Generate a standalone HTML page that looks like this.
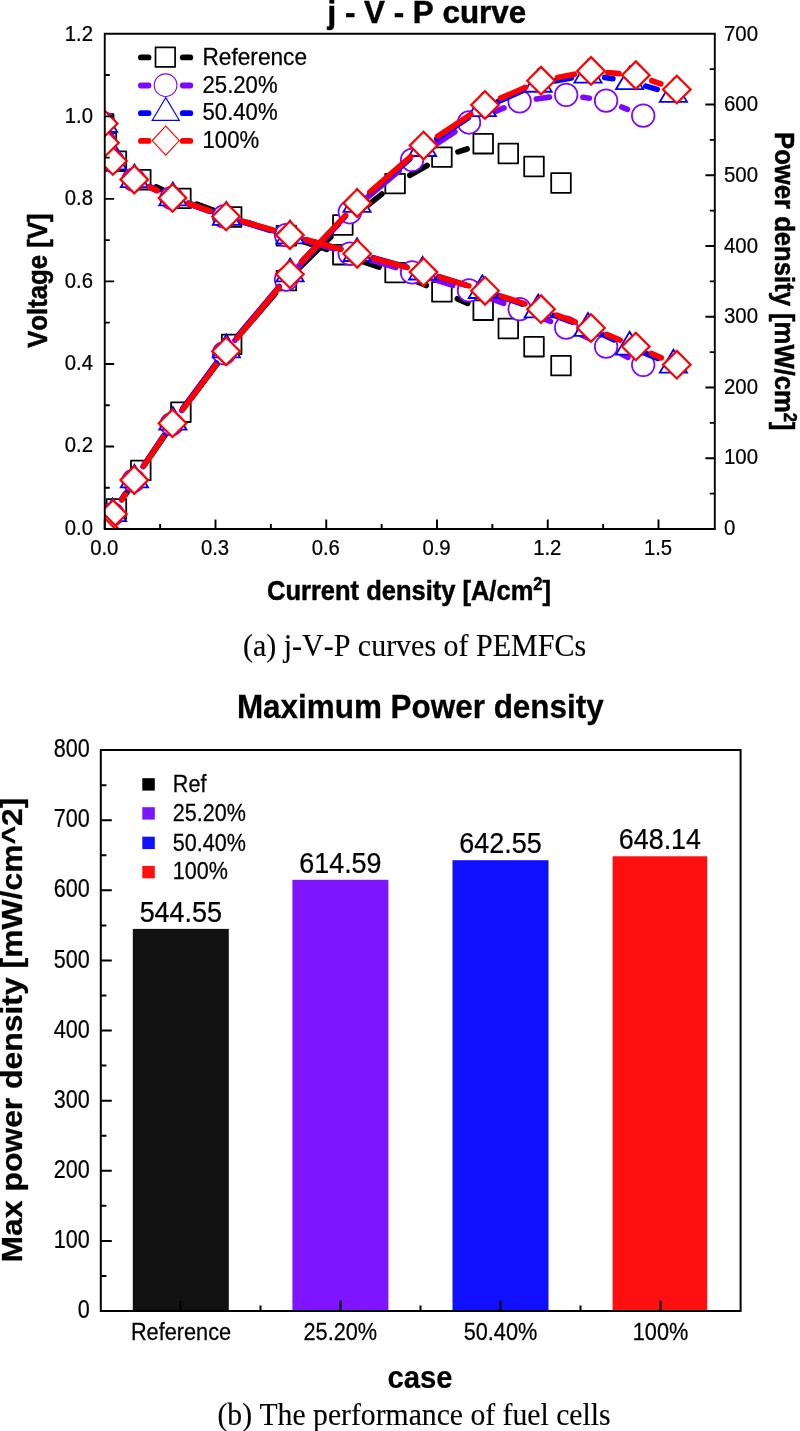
<!DOCTYPE html>
<html lang="en"><head><meta charset="utf-8"><title>j-V-P curves and maximum power density</title>
<style>
html,body{margin:0;padding:0;background:#fff;}
body{width:800px;height:1431px;overflow:hidden;}
svg{display:block;}
text{white-space:pre;fill:#000;stroke:#000;font-kerning:none;}
.s{font-family:"Liberation Sans",sans-serif;stroke-width:0.25px;}
.b{font-weight:bold;stroke-width:0.5px;}
.r{font-family:"Liberation Serif",serif;stroke-width:0.15px;}
.m{text-anchor:middle;}
.e{text-anchor:end;}

</style></head>
<body>
<svg width="800" height="1431" viewBox="0 0 800 1431">
<rect x="0" y="0" width="800" height="1431" fill="#ffffff"/>
<clipPath id="c1"><rect x="104.75" y="33.8" width="610.05" height="495.2"/></clipPath>
<g clip-path="url(#c1)">
<line x1="156.16" y1="186.86" x2="165.54" y2="191.24" stroke="#000000" stroke-width="5.7" stroke-linecap="round"/>
<line x1="196.81" y1="204.23" x2="215.74" y2="211.17" stroke="#000000" stroke-width="5.7" stroke-linecap="round"/>
<line x1="247.68" y1="222.50" x2="270.37" y2="230.30" stroke="#000000" stroke-width="5.7" stroke-linecap="round"/>
<line x1="302.47" y1="241.18" x2="326.78" y2="249.32" stroke="#000000" stroke-width="5.7" stroke-linecap="round"/>
<line x1="358.89" y1="260.19" x2="379.06" y2="267.11" stroke="#000000" stroke-width="5.7" stroke-linecap="round"/>
<line x1="410.77" y1="279.06" x2="426.23" y2="285.44" stroke="#000000" stroke-width="5.7" stroke-linecap="round"/>
<line x1="457.40" y1="298.77" x2="467.70" y2="303.33" stroke="#000000" stroke-width="5.7" stroke-linecap="round"/>
<rect x="551.20" y="355.80" width="19.60" height="19.60" fill="#fff" stroke="#000000" stroke-width="1.8" stroke-linejoin="round"/>
<rect x="524.20" y="336.90" width="19.60" height="19.60" fill="#fff" stroke="#000000" stroke-width="1.8" stroke-linejoin="round"/>
<rect x="498.50" y="318.70" width="19.60" height="19.60" fill="#fff" stroke="#000000" stroke-width="1.8" stroke-linejoin="round"/>
<rect x="473.40" y="300.40" width="19.60" height="19.60" fill="#fff" stroke="#000000" stroke-width="1.8" stroke-linejoin="round"/>
<rect x="432.10" y="282.10" width="19.60" height="19.60" fill="#fff" stroke="#000000" stroke-width="1.8" stroke-linejoin="round"/>
<rect x="385.30" y="262.80" width="19.60" height="19.60" fill="#fff" stroke="#000000" stroke-width="1.8" stroke-linejoin="round"/>
<rect x="333.05" y="244.90" width="19.60" height="19.60" fill="#fff" stroke="#000000" stroke-width="1.8" stroke-linejoin="round"/>
<rect x="276.60" y="226.00" width="19.60" height="19.60" fill="#fff" stroke="#000000" stroke-width="1.8" stroke-linejoin="round"/>
<rect x="221.85" y="207.20" width="19.60" height="19.60" fill="#fff" stroke="#000000" stroke-width="1.8" stroke-linejoin="round"/>
<rect x="171.10" y="188.60" width="19.60" height="19.60" fill="#fff" stroke="#000000" stroke-width="1.8" stroke-linejoin="round"/>
<rect x="131.00" y="169.90" width="19.60" height="19.60" fill="#fff" stroke="#000000" stroke-width="1.8" stroke-linejoin="round"/>
<rect x="106.60" y="151.40" width="19.60" height="19.60" fill="#fff" stroke="#000000" stroke-width="1.8" stroke-linejoin="round"/>
<rect x="96.60" y="133.10" width="19.60" height="19.60" fill="#fff" stroke="#000000" stroke-width="1.8" stroke-linejoin="round"/>
<rect x="93.85" y="114.05" width="19.60" height="19.60" fill="#fff" stroke="#000000" stroke-width="1.8" stroke-linejoin="round"/>
<line x1="125.47" y1="494.58" x2="131.73" y2="484.67" stroke="#000000" stroke-width="5.7" stroke-linecap="round"/>
<line x1="150.42" y1="456.40" x2="171.28" y2="426.15" stroke="#000000" stroke-width="5.7" stroke-linecap="round"/>
<line x1="191.05" y1="398.63" x2="221.50" y2="357.92" stroke="#000000" stroke-width="5.7" stroke-linecap="round"/>
<line x1="242.69" y1="331.49" x2="275.36" y2="293.46" stroke="#000000" stroke-width="5.7" stroke-linecap="round"/>
<line x1="298.48" y1="268.71" x2="330.77" y2="236.89" stroke="#000000" stroke-width="5.7" stroke-linecap="round"/>
<line x1="356.14" y1="214.47" x2="381.81" y2="194.13" stroke="#000000" stroke-width="5.7" stroke-linecap="round"/>
<line x1="409.86" y1="175.26" x2="427.14" y2="165.49" stroke="#000000" stroke-width="5.7" stroke-linecap="round"/>
<line x1="458.02" y1="151.90" x2="467.08" y2="148.95" stroke="#000000" stroke-width="5.7" stroke-linecap="round"/>
<rect x="551.20" y="173.20" width="19.60" height="19.60" fill="#fff" stroke="#000000" stroke-width="1.8" stroke-linejoin="round"/>
<rect x="524.20" y="156.70" width="19.60" height="19.60" fill="#fff" stroke="#000000" stroke-width="1.8" stroke-linejoin="round"/>
<rect x="498.50" y="143.70" width="19.60" height="19.60" fill="#fff" stroke="#000000" stroke-width="1.8" stroke-linejoin="round"/>
<rect x="473.40" y="133.90" width="19.60" height="19.60" fill="#fff" stroke="#000000" stroke-width="1.8" stroke-linejoin="round"/>
<rect x="432.10" y="147.35" width="19.60" height="19.60" fill="#fff" stroke="#000000" stroke-width="1.8" stroke-linejoin="round"/>
<rect x="385.30" y="173.80" width="19.60" height="19.60" fill="#fff" stroke="#000000" stroke-width="1.8" stroke-linejoin="round"/>
<rect x="333.05" y="215.20" width="19.60" height="19.60" fill="#fff" stroke="#000000" stroke-width="1.8" stroke-linejoin="round"/>
<rect x="276.60" y="270.80" width="19.60" height="19.60" fill="#fff" stroke="#000000" stroke-width="1.8" stroke-linejoin="round"/>
<rect x="221.85" y="334.55" width="19.60" height="19.60" fill="#fff" stroke="#000000" stroke-width="1.8" stroke-linejoin="round"/>
<rect x="171.10" y="402.40" width="19.60" height="19.60" fill="#fff" stroke="#000000" stroke-width="1.8" stroke-linejoin="round"/>
<rect x="131.00" y="460.55" width="19.60" height="19.60" fill="#fff" stroke="#000000" stroke-width="1.8" stroke-linejoin="round"/>
<rect x="106.60" y="499.10" width="19.60" height="19.60" fill="#fff" stroke="#000000" stroke-width="1.8" stroke-linejoin="round"/>
<rect x="96.60" y="518.20" width="19.60" height="19.60" fill="#fff" stroke="#000000" stroke-width="1.8" stroke-linejoin="round"/>
<rect x="93.85" y="520.00" width="19.60" height="19.60" fill="#fff" stroke="#000000" stroke-width="1.8" stroke-linejoin="round"/>
<line x1="148.87" y1="186.95" x2="156.33" y2="190.55" stroke="#7d08ff" stroke-width="5.7" stroke-linecap="round"/>
<line x1="187.57" y1="203.57" x2="208.03" y2="210.83" stroke="#7d08ff" stroke-width="5.7" stroke-linecap="round"/>
<line x1="240.24" y1="221.35" x2="269.86" y2="230.20" stroke="#7d08ff" stroke-width="5.7" stroke-linecap="round"/>
<line x1="302.37" y1="239.79" x2="333.53" y2="248.86" stroke="#7d08ff" stroke-width="5.7" stroke-linecap="round"/>
<line x1="366.03" y1="258.50" x2="395.87" y2="267.50" stroke="#7d08ff" stroke-width="5.7" stroke-linecap="round"/>
<line x1="428.26" y1="277.51" x2="452.84" y2="285.29" stroke="#7d08ff" stroke-width="5.7" stroke-linecap="round"/>
<line x1="484.89" y1="296.29" x2="503.71" y2="303.26" stroke="#7d08ff" stroke-width="5.7" stroke-linecap="round"/>
<line x1="535.35" y1="315.40" x2="550.45" y2="321.40" stroke="#7d08ff" stroke-width="5.7" stroke-linecap="round"/>
<line x1="581.52" y1="334.91" x2="590.78" y2="339.29" stroke="#7d08ff" stroke-width="5.7" stroke-linecap="round"/>
<line x1="621.30" y1="354.05" x2="628.00" y2="357.35" stroke="#7d08ff" stroke-width="5.7" stroke-linecap="round"/>
<circle cx="643.20" cy="364.85" r="11.3" fill="#fff" stroke="#7d08ff" stroke-width="1.75"/>
<circle cx="606.10" cy="346.55" r="11.3" fill="#fff" stroke="#7d08ff" stroke-width="1.75"/>
<circle cx="566.20" cy="327.65" r="11.3" fill="#fff" stroke="#7d08ff" stroke-width="1.75"/>
<circle cx="519.60" cy="309.15" r="11.3" fill="#fff" stroke="#7d08ff" stroke-width="1.75"/>
<circle cx="469.00" cy="290.40" r="11.3" fill="#fff" stroke="#7d08ff" stroke-width="1.75"/>
<circle cx="412.10" cy="272.40" r="11.3" fill="#fff" stroke="#7d08ff" stroke-width="1.75"/>
<circle cx="349.80" cy="253.60" r="11.3" fill="#fff" stroke="#7d08ff" stroke-width="1.75"/>
<circle cx="286.10" cy="235.05" r="11.3" fill="#fff" stroke="#7d08ff" stroke-width="1.75"/>
<circle cx="224.00" cy="216.50" r="11.3" fill="#fff" stroke="#7d08ff" stroke-width="1.75"/>
<circle cx="171.60" cy="197.90" r="11.3" fill="#fff" stroke="#7d08ff" stroke-width="1.75"/>
<circle cx="133.60" cy="179.60" r="11.3" fill="#fff" stroke="#7d08ff" stroke-width="1.75"/>
<circle cx="112.60" cy="161.00" r="11.3" fill="#fff" stroke="#7d08ff" stroke-width="1.75"/>
<circle cx="104.90" cy="142.75" r="11.3" fill="#fff" stroke="#7d08ff" stroke-width="1.75"/>
<circle cx="103.70" cy="123.50" r="11.3" fill="#fff" stroke="#7d08ff" stroke-width="1.75"/>
<line x1="121.58" y1="499.83" x2="124.62" y2="494.97" stroke="#7d08ff" stroke-width="5.7" stroke-linecap="round"/>
<line x1="143.07" y1="466.54" x2="162.13" y2="438.26" stroke="#7d08ff" stroke-width="5.7" stroke-linecap="round"/>
<line x1="181.67" y1="410.56" x2="213.93" y2="366.84" stroke="#7d08ff" stroke-width="5.7" stroke-linecap="round"/>
<line x1="234.92" y1="340.24" x2="275.18" y2="292.46" stroke="#7d08ff" stroke-width="5.7" stroke-linecap="round"/>
<line x1="297.75" y1="267.19" x2="338.15" y2="224.51" stroke="#7d08ff" stroke-width="5.7" stroke-linecap="round"/>
<line x1="362.77" y1="201.29" x2="399.13" y2="170.71" stroke="#7d08ff" stroke-width="5.7" stroke-linecap="round"/>
<line x1="426.28" y1="150.51" x2="454.82" y2="131.79" stroke="#7d08ff" stroke-width="5.7" stroke-linecap="round"/>
<line x1="484.64" y1="115.98" x2="503.96" y2="107.92" stroke="#7d08ff" stroke-width="5.7" stroke-linecap="round"/>
<line x1="536.38" y1="99.02" x2="549.42" y2="97.18" stroke="#7d08ff" stroke-width="5.7" stroke-linecap="round"/>
<line x1="582.97" y1="97.28" x2="589.33" y2="98.22" stroke="#7d08ff" stroke-width="5.7" stroke-linecap="round"/>
<line x1="621.82" y1="107.04" x2="627.48" y2="109.31" stroke="#7d08ff" stroke-width="5.7" stroke-linecap="round"/>
<circle cx="643.20" cy="115.65" r="11.3" fill="#fff" stroke="#7d08ff" stroke-width="1.75"/>
<circle cx="606.10" cy="100.70" r="11.3" fill="#fff" stroke="#7d08ff" stroke-width="1.75"/>
<circle cx="566.20" cy="94.80" r="11.3" fill="#fff" stroke="#7d08ff" stroke-width="1.75"/>
<circle cx="519.60" cy="101.40" r="11.3" fill="#fff" stroke="#7d08ff" stroke-width="1.75"/>
<circle cx="469.00" cy="122.50" r="11.3" fill="#fff" stroke="#7d08ff" stroke-width="1.75"/>
<circle cx="412.10" cy="159.80" r="11.3" fill="#fff" stroke="#7d08ff" stroke-width="1.75"/>
<circle cx="349.80" cy="212.20" r="11.3" fill="#fff" stroke="#7d08ff" stroke-width="1.75"/>
<circle cx="286.10" cy="279.50" r="11.3" fill="#fff" stroke="#7d08ff" stroke-width="1.75"/>
<circle cx="224.00" cy="353.20" r="11.3" fill="#fff" stroke="#7d08ff" stroke-width="1.75"/>
<circle cx="171.60" cy="424.20" r="11.3" fill="#fff" stroke="#7d08ff" stroke-width="1.75"/>
<circle cx="133.60" cy="480.60" r="11.3" fill="#fff" stroke="#7d08ff" stroke-width="1.75"/>
<circle cx="112.60" cy="514.20" r="11.3" fill="#fff" stroke="#7d08ff" stroke-width="1.75"/>
<circle cx="104.90" cy="528.90" r="11.3" fill="#fff" stroke="#7d08ff" stroke-width="1.75"/>
<circle cx="103.70" cy="531.00" r="11.3" fill="#fff" stroke="#7d08ff" stroke-width="1.75"/>
<line x1="149.74" y1="186.61" x2="157.56" y2="190.29" stroke="#0000ff" stroke-width="5.7" stroke-linecap="round"/>
<line x1="188.83" y1="203.30" x2="210.47" y2="211.20" stroke="#0000ff" stroke-width="5.7" stroke-linecap="round"/>
<line x1="242.67" y1="221.75" x2="273.83" y2="230.85" stroke="#0000ff" stroke-width="5.7" stroke-linecap="round"/>
<line x1="306.49" y1="239.91" x2="340.61" y2="248.89" stroke="#0000ff" stroke-width="5.7" stroke-linecap="round"/>
<line x1="373.31" y1="257.80" x2="406.29" y2="267.10" stroke="#0000ff" stroke-width="5.7" stroke-linecap="round"/>
<line x1="438.79" y1="276.72" x2="466.11" y2="285.18" stroke="#0000ff" stroke-width="5.7" stroke-linecap="round"/>
<line x1="498.32" y1="295.73" x2="522.18" y2="303.97" stroke="#0000ff" stroke-width="5.7" stroke-linecap="round"/>
<line x1="554.09" y1="315.40" x2="572.11" y2="322.10" stroke="#0000ff" stroke-width="5.7" stroke-linecap="round"/>
<line x1="603.45" y1="334.98" x2="614.15" y2="339.82" stroke="#0000ff" stroke-width="5.7" stroke-linecap="round"/>
<line x1="645.28" y1="353.24" x2="657.72" y2="358.36" stroke="#0000ff" stroke-width="5.7" stroke-linecap="round"/>
<polygon points="673.40,349.80 687.00,372.60 659.80,372.60" fill="#fff" stroke="#0000ff" stroke-width="1.8" stroke-linejoin="miter"/>
<polygon points="629.60,331.80 643.20,354.60 616.00,354.60" fill="#fff" stroke="#0000ff" stroke-width="1.8" stroke-linejoin="miter"/>
<polygon points="588.00,313.00 601.60,335.80 574.40,335.80" fill="#fff" stroke="#0000ff" stroke-width="1.8" stroke-linejoin="miter"/>
<polygon points="538.20,294.50 551.80,317.30 524.60,317.30" fill="#fff" stroke="#0000ff" stroke-width="1.8" stroke-linejoin="miter"/>
<polygon points="482.30,275.20 495.90,298.00 468.70,298.00" fill="#fff" stroke="#0000ff" stroke-width="1.8" stroke-linejoin="miter"/>
<polygon points="422.60,256.70 436.20,279.50 409.00,279.50" fill="#fff" stroke="#0000ff" stroke-width="1.8" stroke-linejoin="miter"/>
<polygon points="357.00,238.20 370.60,261.00 343.40,261.00" fill="#fff" stroke="#0000ff" stroke-width="1.8" stroke-linejoin="miter"/>
<polygon points="290.10,220.60 303.70,243.40 276.50,243.40" fill="#fff" stroke="#0000ff" stroke-width="1.8" stroke-linejoin="miter"/>
<polygon points="226.40,202.00 240.00,224.80 212.80,224.80" fill="#fff" stroke="#0000ff" stroke-width="1.8" stroke-linejoin="miter"/>
<polygon points="172.90,182.50 186.50,205.30 159.30,205.30" fill="#fff" stroke="#0000ff" stroke-width="1.8" stroke-linejoin="miter"/>
<polygon points="134.40,164.40 148.00,187.20 120.80,187.20" fill="#fff" stroke="#0000ff" stroke-width="1.8" stroke-linejoin="miter"/>
<polygon points="112.60,146.50 126.20,169.30 99.00,169.30" fill="#fff" stroke="#0000ff" stroke-width="1.8" stroke-linejoin="miter"/>
<polygon points="104.90,127.90 118.50,150.70 91.30,150.70" fill="#fff" stroke="#0000ff" stroke-width="1.8" stroke-linejoin="miter"/>
<polygon points="103.60,109.00 117.20,131.80 90.00,131.80" fill="#fff" stroke="#0000ff" stroke-width="1.8" stroke-linejoin="miter"/>
<line x1="121.80" y1="499.16" x2="125.20" y2="493.89" stroke="#0000ff" stroke-width="5.7" stroke-linecap="round"/>
<line x1="143.80" y1="465.55" x2="163.50" y2="436.00" stroke="#0000ff" stroke-width="5.7" stroke-linecap="round"/>
<line x1="182.97" y1="408.27" x2="216.33" y2="363.13" stroke="#0000ff" stroke-width="5.7" stroke-linecap="round"/>
<line x1="237.29" y1="336.51" x2="279.21" y2="286.49" stroke="#0000ff" stroke-width="5.7" stroke-linecap="round"/>
<line x1="301.85" y1="261.29" x2="345.25" y2="216.21" stroke="#0000ff" stroke-width="5.7" stroke-linecap="round"/>
<line x1="369.91" y1="193.02" x2="409.69" y2="159.18" stroke="#0000ff" stroke-width="5.7" stroke-linecap="round"/>
<line x1="436.70" y1="138.80" x2="468.20" y2="117.80" stroke="#0000ff" stroke-width="5.7" stroke-linecap="round"/>
<line x1="497.83" y1="101.61" x2="522.67" y2="90.74" stroke="#0000ff" stroke-width="5.7" stroke-linecap="round"/>
<line x1="554.87" y1="80.89" x2="571.33" y2="77.86" stroke="#0000ff" stroke-width="5.7" stroke-linecap="round"/>
<line x1="604.74" y1="77.46" x2="612.86" y2="78.74" stroke="#0000ff" stroke-width="5.7" stroke-linecap="round"/>
<line x1="645.88" y1="86.12" x2="657.12" y2="89.38" stroke="#0000ff" stroke-width="5.7" stroke-linecap="round"/>
<polygon points="673.40,79.10 687.00,101.90 659.80,101.90" fill="#fff" stroke="#0000ff" stroke-width="1.8" stroke-linejoin="miter"/>
<polygon points="629.60,66.40 643.20,89.20 616.00,89.20" fill="#fff" stroke="#0000ff" stroke-width="1.8" stroke-linejoin="miter"/>
<polygon points="588.00,59.80 601.60,82.60 574.40,82.60" fill="#fff" stroke="#0000ff" stroke-width="1.8" stroke-linejoin="miter"/>
<polygon points="538.20,68.95 551.80,91.75 524.60,91.75" fill="#fff" stroke="#0000ff" stroke-width="1.8" stroke-linejoin="miter"/>
<polygon points="482.30,93.40 495.90,116.20 468.70,116.20" fill="#fff" stroke="#0000ff" stroke-width="1.8" stroke-linejoin="miter"/>
<polygon points="422.60,133.20 436.20,156.00 409.00,156.00" fill="#fff" stroke="#0000ff" stroke-width="1.8" stroke-linejoin="miter"/>
<polygon points="357.00,189.00 370.60,211.80 343.40,211.80" fill="#fff" stroke="#0000ff" stroke-width="1.8" stroke-linejoin="miter"/>
<polygon points="290.10,258.50 303.70,281.30 276.50,281.30" fill="#fff" stroke="#0000ff" stroke-width="1.8" stroke-linejoin="miter"/>
<polygon points="226.40,334.50 240.00,357.30 212.80,357.30" fill="#fff" stroke="#0000ff" stroke-width="1.8" stroke-linejoin="miter"/>
<polygon points="172.90,406.90 186.50,429.70 159.30,429.70" fill="#fff" stroke="#0000ff" stroke-width="1.8" stroke-linejoin="miter"/>
<polygon points="134.40,464.65 148.00,487.45 120.80,487.45" fill="#fff" stroke="#0000ff" stroke-width="1.8" stroke-linejoin="miter"/>
<polygon points="112.60,498.40 126.20,521.20 99.00,521.20" fill="#fff" stroke="#0000ff" stroke-width="1.8" stroke-linejoin="miter"/>
<polygon points="104.90,513.90 118.50,536.70 91.30,536.70" fill="#fff" stroke="#0000ff" stroke-width="1.8" stroke-linejoin="miter"/>
<polygon points="103.60,516.00 117.20,538.80 90.00,538.80" fill="#fff" stroke="#0000ff" stroke-width="1.8" stroke-linejoin="miter"/>
<line x1="149.54" y1="186.92" x2="157.21" y2="190.58" stroke="#ff0000" stroke-width="5.7" stroke-linecap="round"/>
<line x1="188.51" y1="203.46" x2="210.09" y2="210.94" stroke="#ff0000" stroke-width="5.7" stroke-linecap="round"/>
<line x1="242.37" y1="221.24" x2="273.63" y2="230.36" stroke="#ff0000" stroke-width="5.7" stroke-linecap="round"/>
<line x1="306.23" y1="239.64" x2="340.87" y2="249.26" stroke="#ff0000" stroke-width="5.7" stroke-linecap="round"/>
<line x1="373.54" y1="258.31" x2="407.16" y2="267.59" stroke="#ff0000" stroke-width="5.7" stroke-linecap="round"/>
<line x1="439.72" y1="277.03" x2="468.78" y2="285.87" stroke="#ff0000" stroke-width="5.7" stroke-linecap="round"/>
<line x1="501.10" y1="296.09" x2="524.90" y2="303.91" stroke="#ff0000" stroke-width="5.7" stroke-linecap="round"/>
<line x1="556.87" y1="315.17" x2="575.13" y2="322.03" stroke="#ff0000" stroke-width="5.7" stroke-linecap="round"/>
<line x1="606.67" y1="334.47" x2="620.13" y2="340.03" stroke="#ff0000" stroke-width="5.7" stroke-linecap="round"/>
<line x1="651.29" y1="353.38" x2="661.31" y2="357.82" stroke="#ff0000" stroke-width="5.7" stroke-linecap="round"/>
<polygon points="676.80,350.90 690.60,364.70 676.80,378.50 663.00,364.70" fill="#fff" stroke="#ff0000" stroke-width="2.2" stroke-linejoin="miter"/>
<polygon points="635.80,332.70 649.60,346.50 635.80,360.30 622.00,346.50" fill="#fff" stroke="#ff0000" stroke-width="2.2" stroke-linejoin="miter"/>
<polygon points="591.00,314.20 604.80,328.00 591.00,341.80 577.20,328.00" fill="#fff" stroke="#ff0000" stroke-width="2.2" stroke-linejoin="miter"/>
<polygon points="541.00,295.40 554.80,309.20 541.00,323.00 527.20,309.20" fill="#fff" stroke="#ff0000" stroke-width="2.2" stroke-linejoin="miter"/>
<polygon points="485.00,277.00 498.80,290.80 485.00,304.60 471.20,290.80" fill="#fff" stroke="#ff0000" stroke-width="2.2" stroke-linejoin="miter"/>
<polygon points="423.50,258.30 437.30,272.10 423.50,285.90 409.70,272.10" fill="#fff" stroke="#ff0000" stroke-width="2.2" stroke-linejoin="miter"/>
<polygon points="357.20,240.00 371.00,253.80 357.20,267.60 343.40,253.80" fill="#fff" stroke="#ff0000" stroke-width="2.2" stroke-linejoin="miter"/>
<polygon points="289.90,221.30 303.70,235.10 289.90,248.90 276.10,235.10" fill="#fff" stroke="#ff0000" stroke-width="2.2" stroke-linejoin="miter"/>
<polygon points="226.10,202.70 239.90,216.50 226.10,230.30 212.30,216.50" fill="#fff" stroke="#ff0000" stroke-width="2.2" stroke-linejoin="miter"/>
<polygon points="172.50,184.10 186.30,197.90 172.50,211.70 158.70,197.90" fill="#fff" stroke="#ff0000" stroke-width="2.2" stroke-linejoin="miter"/>
<polygon points="134.25,165.80 148.05,179.60 134.25,193.40 120.45,179.60" fill="#fff" stroke="#ff0000" stroke-width="2.2" stroke-linejoin="miter"/>
<polygon points="112.90,147.20 126.70,161.00 112.90,174.80 99.10,161.00" fill="#fff" stroke="#ff0000" stroke-width="2.2" stroke-linejoin="miter"/>
<polygon points="104.95,128.95 118.75,142.75 104.95,156.55 91.15,142.75" fill="#fff" stroke="#ff0000" stroke-width="2.2" stroke-linejoin="miter"/>
<polygon points="103.70,109.70 117.50,123.50 103.70,137.30 89.90,123.50" fill="#fff" stroke="#ff0000" stroke-width="2.2" stroke-linejoin="miter"/>
<line x1="121.94" y1="499.61" x2="125.21" y2="494.44" stroke="#ff0000" stroke-width="5.7" stroke-linecap="round"/>
<line x1="143.71" y1="466.03" x2="163.04" y2="437.27" stroke="#ff0000" stroke-width="5.7" stroke-linecap="round"/>
<line x1="182.63" y1="409.61" x2="215.97" y2="364.89" stroke="#ff0000" stroke-width="5.7" stroke-linecap="round"/>
<line x1="236.91" y1="338.24" x2="279.09" y2="287.31" stroke="#ff0000" stroke-width="5.7" stroke-linecap="round"/>
<line x1="301.55" y1="261.94" x2="345.55" y2="215.41" stroke="#ff0000" stroke-width="5.7" stroke-linecap="round"/>
<line x1="370.01" y1="191.99" x2="410.69" y2="156.71" stroke="#ff0000" stroke-width="5.7" stroke-linecap="round"/>
<line x1="437.64" y1="136.26" x2="470.86" y2="114.31" stroke="#ff0000" stroke-width="5.7" stroke-linecap="round"/>
<line x1="500.55" y1="98.23" x2="525.45" y2="87.44" stroke="#ff0000" stroke-width="5.7" stroke-linecap="round"/>
<line x1="557.64" y1="77.46" x2="574.36" y2="74.19" stroke="#ff0000" stroke-width="5.7" stroke-linecap="round"/>
<line x1="607.88" y1="72.53" x2="618.92" y2="73.57" stroke="#ff0000" stroke-width="5.7" stroke-linecap="round"/>
<line x1="651.80" y1="80.75" x2="660.80" y2="83.90" stroke="#ff0000" stroke-width="5.7" stroke-linecap="round"/>
<polygon points="676.80,75.70 690.60,89.50 676.80,103.30 663.00,89.50" fill="#fff" stroke="#ff0000" stroke-width="2.2" stroke-linejoin="miter"/>
<polygon points="635.80,61.35 649.60,75.15 635.80,88.95 622.00,75.15" fill="#fff" stroke="#ff0000" stroke-width="2.2" stroke-linejoin="miter"/>
<polygon points="591.00,57.15 604.80,70.95 591.00,84.75 577.20,70.95" fill="#fff" stroke="#ff0000" stroke-width="2.2" stroke-linejoin="miter"/>
<polygon points="541.00,66.90 554.80,80.70 541.00,94.50 527.20,80.70" fill="#fff" stroke="#ff0000" stroke-width="2.2" stroke-linejoin="miter"/>
<polygon points="485.00,91.17 498.80,104.97 485.00,118.77 471.20,104.97" fill="#fff" stroke="#ff0000" stroke-width="2.2" stroke-linejoin="miter"/>
<polygon points="423.50,131.80 437.30,145.60 423.50,159.40 409.70,145.60" fill="#fff" stroke="#ff0000" stroke-width="2.2" stroke-linejoin="miter"/>
<polygon points="357.20,189.30 371.00,203.10 357.20,216.90 343.40,203.10" fill="#fff" stroke="#ff0000" stroke-width="2.2" stroke-linejoin="miter"/>
<polygon points="289.90,260.45 303.70,274.25 289.90,288.05 276.10,274.25" fill="#fff" stroke="#ff0000" stroke-width="2.2" stroke-linejoin="miter"/>
<polygon points="226.10,337.50 239.90,351.30 226.10,365.10 212.30,351.30" fill="#fff" stroke="#ff0000" stroke-width="2.2" stroke-linejoin="miter"/>
<polygon points="172.50,409.40 186.30,423.20 172.50,437.00 158.70,423.20" fill="#fff" stroke="#ff0000" stroke-width="2.2" stroke-linejoin="miter"/>
<polygon points="134.25,466.30 148.05,480.10 134.25,493.90 120.45,480.10" fill="#fff" stroke="#ff0000" stroke-width="2.2" stroke-linejoin="miter"/>
<polygon points="112.90,500.15 126.70,513.95 112.90,527.75 99.10,513.95" fill="#fff" stroke="#ff0000" stroke-width="2.2" stroke-linejoin="miter"/>
<polygon points="104.95,515.10 118.75,528.90 104.95,542.70 91.15,528.90" fill="#fff" stroke="#ff0000" stroke-width="2.2" stroke-linejoin="miter"/>
<polygon points="103.70,517.20 117.50,531.00 103.70,544.80 89.90,531.00" fill="#fff" stroke="#ff0000" stroke-width="2.2" stroke-linejoin="miter"/>
</g>
<path d="M104.75,33.8 H714.8 V529.0 H104.75 Z" fill="none" stroke="#000" stroke-width="1.9"/>
<path d="M104.75,529.0 v-9.4 M160.13,529.0 v-5 M215.50,529.0 v-9.4 M270.88,529.0 v-5 M326.25,529.0 v-9.4 M381.63,529.0 v-5 M437.00,529.0 v-9.4 M492.38,529.0 v-5 M547.75,529.0 v-9.4 M603.13,529.0 v-5 M658.50,529.0 v-9.4 M104.75,487.73 h5 M104.75,446.47 h9.4 M104.75,405.20 h5 M104.75,363.93 h9.4 M104.75,322.67 h5 M104.75,281.40 h9.4 M104.75,240.13 h5 M104.75,198.87 h9.4 M104.75,157.60 h5 M104.75,116.33 h9.4 M104.75,75.07 h5 M714.8,493.63 h-5 M714.8,458.26 h-9.4 M714.8,422.89 h-5 M714.8,387.51 h-9.4 M714.8,352.14 h-5 M714.8,316.77 h-9.4 M714.8,281.40 h-5 M714.8,246.03 h-9.4 M714.8,210.66 h-5 M714.8,175.29 h-9.4 M714.8,139.91 h-5 M714.8,104.54 h-9.4 M714.8,69.17 h-5" fill="none" stroke="#000" stroke-width="1.9"/>
<text class="s e" transform="translate(93.00,534.70) scale(0.9100,1)" font-size="22.3" >0.0</text>
<text class="s e" transform="translate(93.00,452.38) scale(0.9100,1)" font-size="22.3" >0.2</text>
<text class="s e" transform="translate(93.00,370.07) scale(0.9100,1)" font-size="22.3" >0.4</text>
<text class="s e" transform="translate(93.00,287.75) scale(0.9100,1)" font-size="22.3" >0.6</text>
<text class="s e" transform="translate(93.00,205.43) scale(0.9100,1)" font-size="22.3" >0.8</text>
<text class="s e" transform="translate(93.00,123.12) scale(0.9100,1)" font-size="22.3" >1.0</text>
<text class="s e" transform="translate(93.00,40.80) scale(0.9100,1)" font-size="22.3" >1.2</text>
<text class="s" transform="translate(724.00,534.80) scale(0.9150,1)" font-size="22.3" >0</text>
<text class="s" transform="translate(724.00,464.23) scale(0.9150,1)" font-size="22.3" >100</text>
<text class="s" transform="translate(724.00,393.66) scale(0.9150,1)" font-size="22.3" >200</text>
<text class="s" transform="translate(724.00,323.09) scale(0.9150,1)" font-size="22.3" >300</text>
<text class="s" transform="translate(724.00,252.51) scale(0.9150,1)" font-size="22.3" >400</text>
<text class="s" transform="translate(724.00,181.94) scale(0.9150,1)" font-size="22.3" >500</text>
<text class="s" transform="translate(724.00,111.37) scale(0.9150,1)" font-size="22.3" >600</text>
<text class="s" transform="translate(724.00,40.80) scale(0.9150,1)" font-size="22.3" >700</text>
<text class="s m" transform="translate(104.25,555.00) scale(0.9100,1)" font-size="22.3" >0.0</text>
<text class="s m" transform="translate(215.00,555.00) scale(0.9100,1)" font-size="22.3" >0.3</text>
<text class="s m" transform="translate(325.75,555.00) scale(0.9100,1)" font-size="22.3" >0.6</text>
<text class="s m" transform="translate(436.50,555.00) scale(0.9100,1)" font-size="22.3" >0.9</text>
<text class="s m" transform="translate(547.25,555.00) scale(0.9100,1)" font-size="22.3" >1.2</text>
<text class="s m" transform="translate(658.00,555.00) scale(0.9100,1)" font-size="22.3" >1.5</text>
<text class="s b m" transform="translate(426.80,23.40) scale(0.9800,1)" font-size="32" >j - V - P curve</text>
<text class="s b m" transform="translate(47.20,280.60) rotate(-90) scale(0.9140,1)" font-size="28.2" >Voltage [V]</text>
<text class="s b m" transform="translate(774.50,281.30) rotate(90) scale(0.9470,1)" font-size="27.1" >Power density [mW/cm<tspan font-size="17.5" dy="-9.5">2</tspan><tspan dy="9.5">]</tspan></text>
<text class="s b m" transform="translate(409.00,600.00) scale(0.8950,1)" font-size="28.5" >Current density [A/cm<tspan font-size="18.5" dy="-10">2</tspan><tspan dy="10">]</tspan></text>
<text class="r m" transform="translate(414.50,656.30) scale(0.9375,1)" font-size="32" >(a) j-V-P curves of PEMFCs</text>
<line x1="140.9" y1="57.4" x2="148.5" y2="57.4" stroke="#000000" stroke-width="5.8" stroke-linecap="round"/>
<line x1="182.8" y1="57.4" x2="190.29999999999998" y2="57.4" stroke="#000000" stroke-width="5.8" stroke-linecap="round"/>
<rect x="155.50" y="47.30" width="19.60" height="19.60" fill="#fff" stroke="#000000" stroke-width="1.7" stroke-linejoin="round"/>
<text class="s" transform="translate(202.50,64.70) scale(0.9770,1)" font-size="23.2" >Reference</text>
<line x1="140.9" y1="85.5" x2="148.5" y2="85.5" stroke="#7d08ff" stroke-width="5.8" stroke-linecap="round"/>
<line x1="182.8" y1="85.5" x2="190.29999999999998" y2="85.5" stroke="#7d08ff" stroke-width="5.8" stroke-linecap="round"/>
<circle cx="165.60" cy="85.20" r="11.3" fill="#fff" stroke="#7d08ff" stroke-width="1.1"/>
<text class="s" transform="translate(202.50,92.75) scale(0.9550,1)" font-size="23.2" >25.20%</text>
<line x1="140.9" y1="113.2" x2="148.5" y2="113.2" stroke="#0000ff" stroke-width="5.8" stroke-linecap="round"/>
<line x1="182.8" y1="113.2" x2="190.29999999999998" y2="113.2" stroke="#0000ff" stroke-width="5.8" stroke-linecap="round"/>
<polygon points="165.75,97.60 179.35,120.40 152.15,120.40" fill="#fff" stroke="#0000ff" stroke-width="1.1" stroke-linejoin="miter"/>
<text class="s" transform="translate(202.50,120.30) scale(0.9550,1)" font-size="23.2" >50.40%</text>
<line x1="140.9" y1="140.9" x2="148.5" y2="140.9" stroke="#ff0000" stroke-width="5.8" stroke-linecap="round"/>
<line x1="182.8" y1="140.9" x2="190.29999999999998" y2="140.9" stroke="#ff0000" stroke-width="5.8" stroke-linecap="round"/>
<polygon points="165.75,126.10 179.35,140.60 165.75,155.10 152.15,140.60" fill="#fff" stroke="#ff0000" stroke-width="1.1" stroke-linejoin="miter"/>
<text class="s" transform="translate(202.50,148.00) scale(0.9550,1)" font-size="23.2" >100%</text>
<rect x="132.80" y="928.90" width="96" height="382.10" fill="#111111"/>
<text class="s m" transform="translate(180.80,922.20) scale(0.8970,1)" font-size="30" >544.55</text>
<rect x="292.40" y="879.80" width="96" height="431.20" fill="#7f14ff"/>
<text class="s m" transform="translate(340.40,873.20) scale(0.8970,1)" font-size="30" >614.59</text>
<rect x="452.50" y="860.19" width="96" height="450.81" fill="#1010ff"/>
<text class="s m" transform="translate(500.50,852.90) scale(0.8970,1)" font-size="30" >642.55</text>
<rect x="612.60" y="856.27" width="94.6" height="454.73" fill="#ff1010"/>
<text class="s m" transform="translate(659.90,848.90) scale(0.8970,1)" font-size="30" >648.14</text>
<path d="M100.8,750.1 H740.6 V1311.0 H100.8 Z" fill="none" stroke="#000" stroke-width="2.0"/>
<path d="M100.8,1275.94 h5.6 M100.8,1240.89 h11 M100.8,1205.83 h5.6 M100.8,1170.78 h11 M100.8,1135.72 h5.6 M100.8,1100.66 h11 M100.8,1065.61 h5.6 M100.8,1030.55 h11 M100.8,995.49 h5.6 M100.8,960.44 h11 M100.8,925.38 h5.6 M100.8,890.33 h11 M100.8,855.27 h5.6 M100.8,820.21 h11 M100.8,785.16 h5.6 M180.5,1311.0 v-10.3 M260.5,1311.0 v-5.4 M340.5,1311.0 v-10.3 M420.5,1311.0 v-5.4 M500.5,1311.0 v-10.3 M580.5,1311.0 v-5.4 M660.5,1311.0 v-10.3" fill="none" stroke="#000" stroke-width="2.0"/>
<text class="s e" transform="translate(89.80,1317.85) scale(0.8300,1)" font-size="26" >0</text>
<text class="s e" transform="translate(89.80,1247.79) scale(0.8300,1)" font-size="26" >100</text>
<text class="s e" transform="translate(89.80,1177.73) scale(0.8300,1)" font-size="26" >200</text>
<text class="s e" transform="translate(89.80,1107.66) scale(0.8300,1)" font-size="26" >300</text>
<text class="s e" transform="translate(89.80,1037.60) scale(0.8300,1)" font-size="26" >400</text>
<text class="s e" transform="translate(89.80,967.54) scale(0.8300,1)" font-size="26" >500</text>
<text class="s e" transform="translate(89.80,897.48) scale(0.8300,1)" font-size="26" >600</text>
<text class="s e" transform="translate(89.80,827.41) scale(0.8300,1)" font-size="26" >700</text>
<text class="s e" transform="translate(89.80,757.35) scale(0.8300,1)" font-size="26" >800</text>
<text class="s m" transform="translate(181.00,1339.70) scale(0.8900,1)" font-size="24.4" >Reference</text>
<text class="s m" transform="translate(340.30,1339.70) scale(0.8900,1)" font-size="24.4" >25.20%</text>
<text class="s m" transform="translate(500.50,1339.70) scale(0.8900,1)" font-size="24.4" >50.40%</text>
<text class="s m" transform="translate(660.50,1339.70) scale(0.8900,1)" font-size="24.4" >100%</text>
<text class="s b m" transform="translate(420.30,718.00) scale(0.9250,1)" font-size="34" style="stroke-width:0.3px">Maximum Power density</text>
<text class="s b m" transform="translate(22.20,1030.00) rotate(-90) scale(1.0630,1)" font-size="30" style="stroke-width:0.3px">Max power density [mW/cm^2]</text>
<text class="s b m" transform="translate(420.00,1388.30) scale(0.9150,1)" font-size="32" style="stroke-width:0.2px">case</text>
<text class="r m" transform="translate(414.00,1424.60) scale(0.9280,1)" font-size="32" >(b) The performance of fuel cells</text>
<rect x="142.3" y="778.1999999999999" width="12.5" height="12.4" fill="#000"/>
<text class="s" transform="translate(172.80,792.00) scale(0.8810,1)" font-size="24.5" >Ref</text>
<rect x="142.3" y="807.1999999999999" width="12.5" height="12.4" fill="#7f14ff"/>
<text class="s" transform="translate(172.80,821.25) scale(0.8810,1)" font-size="24.5" >25.20%</text>
<rect x="142.3" y="836.6999999999999" width="12.5" height="12.4" fill="#1010ff"/>
<text class="s" transform="translate(172.80,850.60) scale(0.8810,1)" font-size="24.5" >50.40%</text>
<rect x="142.3" y="865.9" width="12.5" height="12.4" fill="#ff1010"/>
<text class="s" transform="translate(172.80,878.80) scale(0.8810,1)" font-size="24.5" >100%</text>
</svg>
</body></html>
